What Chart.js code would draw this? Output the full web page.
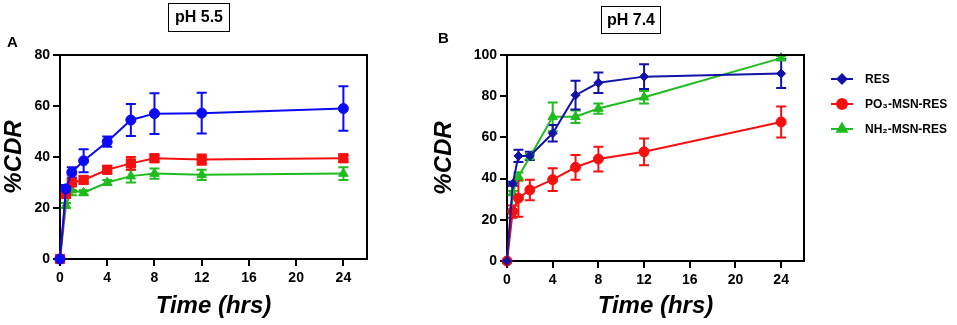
<!DOCTYPE html>
<html>
<head>
<meta charset="utf-8">
<script src="https://cdn.jsdelivr.net/npm/chart.js@4.4.1/dist/chart.umd.min.js"></script>
<style>
  body { margin: 0; background: #fff; width: 957px; height: 325px; overflow: hidden; position: relative; font-family: "Liberation Sans", Arial, sans-serif; }
  canvas { position: absolute; top: 0; }
  #chartA { left: 0; }
  #chartB { left: 430px; }
  .phbox { position: absolute; border: 1.5px solid #000; font-weight: bold; font-size: 16px; text-align: center; box-sizing: border-box; line-height: 26px; }
  .panel { position: absolute; font-weight: bold; font-size: 15px; }
</style>
</head>
<body>
<canvas id="chartA" width="400" height="325"></canvas>
<canvas id="chartB" width="527" height="325"></canvas>
<div class="phbox" style="left:168px; top:3px; width:62px; height:29px;">pH 5.5</div>
<div class="phbox" style="left:601px; top:6px; width:60px; height:28px;">pH 7.4</div>
<div class="panel" style="left:7px; top:33px;">A</div>
<div class="panel" style="left:438px; top:29px;">B</div>
<script>
// time points (hrs)
const timePoints = [0, 0.5, 1, 2, 4, 6, 8, 12, 24];
const xTicks = [0, 4, 8, 12, 16, 20, 24];
const seriesNames = ['RES', 'PO\u2083-MSN-RES', 'NH\u2082-MSN-RES'];

// pH 5.5 (panel A)
const resA = [0, 27.5, 34, 38.5, 46, 54.5, 57, 57.2, 59];
const resErrA = [0, 1.5, 2, 4.5, 2, 6.3, 8, 8, 8.7];
const po3A = [0, 25.5, 30, 31, 35, 37.5, 39.5, 39, 39.5];
const po3ErrA = [0, 1.5, 3, 1.5, 1.5, 2.5, 1.5, 2, 1.5];
const nh2A = [0, 21, 27, 26, 30, 32.5, 33.5, 33, 33.5];
const nh2ErrA = [0, 1, 2, 1, 1, 2.5, 2, 2, 2.5];

// pH 7.4 (panel B)
const resB = [0, 37.5, 51, 51, 62, 80.5, 86.5, 89.5, 91];
const resErrB = [0, 1, 3, 2, 4, 7, 5, 6, 7];
const po3B = [0, 24, 30.5, 34.5, 39.5, 45.5, 49.5, 53, 67.5];
const po3ErrB = [0, 3, 9, 5, 5.5, 6, 6, 6.5, 7.5];
const nh2B = [0, 33, 41, 50.5, 70, 70, 74, 79.5, 98.5];
const nh2ErrB = [0, 1, 2, 1.5, 7, 3, 2.5, 3, 1];

const FONT = '"Liberation Sans", Arial, sans-serif';
Chart.defaults.font.family = FONT;
Chart.defaults.color = '#000';

function pts(vals) {
  return timePoints.map((t, i) => ({ x: t, y: vals[i] }));
}

function makeDataset(label, vals, errs, color, style, radius) {
  return {
    label: label,
    data: pts(vals),
    errors: errs,
    borderColor: color,
    backgroundColor: color,
    borderWidth: 2,
    pointStyle: style,
    pointRadius: radius,
    pointBackgroundColor: color,
    pointBorderColor: color,
    pointBorderWidth: 1,
    tension: 0,
    clip: false
  };
}

// vertical error bars with caps, drawn below the markers
const errorBars = {
  id: 'errorBars',
  beforeDatasetsDraw(chart) {
    const { ctx, scales: { x, y } } = chart;
    ctx.save();
    for (let i = chart.data.datasets.length - 1; i >= 0; i--) {
      const ds = chart.data.datasets[i];
      ctx.strokeStyle = ds.borderColor;
      ctx.lineWidth = 2;
      ds.data.forEach((p, j) => {
        const e = ds.errors[j];
        if (!e) return;
        const px = x.getPixelForValue(p.x);
        const top = y.getPixelForValue(p.y + e);
        const bot = y.getPixelForValue(p.y - e);
        ctx.beginPath();
        ctx.moveTo(px, top); ctx.lineTo(px, bot);
        ctx.moveTo(px - 5, top); ctx.lineTo(px + 5, top);
        ctx.moveTo(px - 5, bot); ctx.lineTo(px + 5, bot);
        ctx.stroke();
      });
    }
    ctx.restore();
  }
};

// top and right border of the plot box
const frame = {
  id: 'frame',
  afterDraw(chart) {
    const { ctx, chartArea: a } = chart;
    ctx.save();
    ctx.strokeStyle = '#000';
    ctx.lineWidth = 2;
    ctx.beginPath();
    ctx.moveTo(a.left - 1, a.top);
    ctx.lineTo(a.right, a.top);
    ctx.lineTo(a.right, a.bottom + 1);
    ctx.stroke();
    ctx.restore();
  }
};

// legend with a line sample and marker
const lineLegend = {
  id: 'lineLegend',
  afterDraw(chart, args, opts) {
    if (!opts.show) return;
    const ctx = chart.ctx;
    ctx.save();
    ctx.font = 'bold 12px ' + FONT;
    ctx.textBaseline = 'middle';
    chart.data.datasets.forEach((ds, i) => {
      const y = opts.top + i * opts.spacing;
      ctx.strokeStyle = ds.borderColor;
      ctx.fillStyle = ds.borderColor;
      ctx.lineWidth = 2;
      ctx.beginPath();
      ctx.moveTo(opts.left, y);
      ctx.lineTo(opts.left + 22, y);
      ctx.stroke();
      Chart.helpers.drawPoint(ctx, { pointStyle: ds.pointStyle, radius: ds.pointRadius, rotation: 0, borderWidth: 1 }, opts.left + 11, y);
      ctx.fillStyle = '#000';
      ctx.fillText(ds.label, opts.left + 34, y + 1);
    });
    ctx.restore();
  }
};

function makeOptions(yMax, yWidth, xHeight, rightPad, legend) {
  return {
    responsive: false,
    animation: false,
    devicePixelRatio: 1,
    layout: { padding: { top: 55, right: rightPad, bottom: 0, left: 0 } },
    plugins: {
      legend: { display: false },
      tooltip: { enabled: false },
      lineLegend: legend
    },
    scales: {
      x: {
        type: 'linear',
        min: 0,
        max: 26,
        afterBuildTicks: s => { s.ticks = xTicks.map(v => ({ value: v })); },
        afterFit: s => { s.height = xHeight; },
        ticks: { font: { size: 14, weight: 'bold' }, padding: 4, maxRotation: 0 },
        grid: { drawOnChartArea: false, color: '#000', lineWidth: 2, tickLength: 7 },
        border: { color: '#000', width: 2 },
        title: { display: true, text: 'Time (hrs)', font: { size: 24, weight: 'bold', style: 'italic' }, padding: { top: 0, bottom: 4 } }
      },
      y: {
        min: 0,
        max: yMax,
        afterFit: s => { s.width = yWidth; },
        ticks: { stepSize: 20, font: { size: 14, weight: 'bold' }, padding: 3 },
        grid: { drawOnChartArea: false, color: '#000', lineWidth: 2, tickLength: 7 },
        border: { color: '#000', width: 2 },
        title: { display: true, text: '%CDR', font: { size: 24, weight: 'bold', style: 'italic' }, padding: { top: 0, bottom: 0 } }
      }
    }
  };
}

new Chart(document.getElementById('chartA'), {
  type: 'line',
  data: {
    datasets: [
      makeDataset(seriesNames[0], resA, resErrA, '#0a0af5', 'circle', 5),
      makeDataset(seriesNames[1], po3A, po3ErrA, '#f51010', 'rect', 6.5),
      makeDataset(seriesNames[2], nh2A, nh2ErrA, '#1fbb1f', 'triangle', 5.5)
    ]
  },
  options: makeOptions(80, 60, 66, 33, { show: false }),
  plugins: [errorBars, frame, lineLegend]
});

new Chart(document.getElementById('chartB'), {
  type: 'line',
  data: {
    datasets: [
      makeDataset(seriesNames[0], resB, resErrB, '#1212a8', 'rectRot', 4.5),
      makeDataset(seriesNames[1], po3B, po3ErrB, '#f51010', 'circle', 5),
      makeDataset(seriesNames[2], nh2B, nh2ErrB, '#1fbb1f', 'triangle', 5.5)
    ]
  },
  options: makeOptions(100, 77, 64, 153, { show: true, left: 401, top: 79, spacing: 25 }),
  plugins: [errorBars, frame, lineLegend]
});
</script>
</body>
</html>
